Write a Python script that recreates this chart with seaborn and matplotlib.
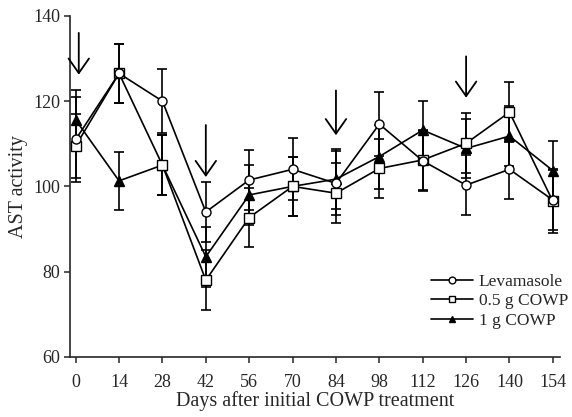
import pandas as pd
import seaborn as sns
import matplotlib.pyplot as plt
import numpy as np

days = [0, 14, 28, 42, 56, 70, 84, 98, 112, 126, 140, 154]

levamasole = [111, 126.5, 120, 94, 101.5, 104, 100.7, 114.6, 106, 100.3, 104, 96.8]
levamasole_err = [10, 7, 7.5, 7, 7, 7.3, 7.5, 7.5, 7, 7, 7, 7]

cowp_05 = [109.5, 126.5, 105, 78, 92.7, 100, 98.4, 104.2, 106.2, 110.1, 117.4, 96.5]
cowp_05_err = [7.5, 7, 7, 7, 7, 7, 7, 7, 7, 7, 7, 7.5]

cowp_1 = [115.6, 101.3, 105, 83.5, 98, 100, 101.7, 107, 113.2, 108.9, 111.8, 103.7]
cowp_1_err = [7, 6.8, 7, 7, 7, 7, 7, 7.5, 6.8, 7, 7, 7]

# treatment arrows (day, top, tip of arrow)
arrow_days = [1, 42, 84, 126]
arrow_top = [136, 114.4, 122.5, 130.5]
arrow_bottom = [126.2, 102.2, 112.0, 120.8]

rows = []
for name, vals, errs in [('Levamasole', levamasole, levamasole_err),
                         ('0.5 g COWP', cowp_05, cowp_05_err),
                         ('1 g COWP', cowp_1, cowp_1_err)]:
    for d, v, e in zip(days, vals, errs):
        rows.append({'day': d, 'ast': v, 'err': e, 'group': name})
df = pd.DataFrame(rows)

sns.set_style('ticks')
plt.rcParams['font.family'] = ['Liberation Serif', 'DejaVu Serif']

fig = plt.figure(figsize=(5.72, 4.17), dpi=100)
ax = fig.add_axes([0.122, 0.144, 0.857, 0.818])

styles = {
    '1 g COWP': dict(marker='^', markerfacecolor='black', zorder=3),
    '0.5 g COWP': dict(marker='s', markerfacecolor='white', zorder=4),
    'Levamasole': dict(marker='o', markerfacecolor='white', zorder=5),
}

for name in ['1 g COWP', '0.5 g COWP', 'Levamasole']:
    sub = df[df['group'] == name]
    ax.errorbar(sub['day'], sub['ast'], yerr=sub['err'], fmt='none',
                ecolor='black', elinewidth=1.2, capsize=3.5, capthick=1.2,
                zorder=2)
    sns.lineplot(data=sub, x='day', y='ast', ax=ax, color='black',
                 linewidth=1.2, markersize=6.5, markeredgecolor='black',
                 markeredgewidth=1.0, label=name, **styles[name])

for d, t, b in zip(arrow_days, arrow_top, arrow_bottom):
    ax.annotate('', xy=(d, b), xytext=(d, t),
                arrowprops=dict(arrowstyle='->, head_length=0.5, head_width=0.35',
                                color='black', lw=1.3, mutation_scale=21,
                                shrinkA=0, shrinkB=0))

ax.set_xlim(-1.9, 156.3)
ax.set_ylim(60, 140)
ax.set_xticks(days)
ax.set_yticks([60, 80, 100, 120, 140])
ax.tick_params(labelsize=13, direction='out', length=4, width=1.1)
ax.tick_params(axis='x', pad=8)
ax.tick_params(axis='y', pad=3)
ax.set_xlabel('Days after initial COWP treatment', fontsize=14.5, labelpad=0)
ax.set_ylabel('AST activity', fontsize=14.5, labelpad=4)
for s in ['top', 'right']:
    ax.spines[s].set_visible(False)
for s in ['left', 'bottom']:
    ax.spines[s].set_linewidth(1.2)

h, l = ax.get_legend_handles_labels()
order = [l.index('Levamasole'), l.index('0.5 g COWP'), l.index('1 g COWP')]
ax.legend([h[i] for i in order], [l[i] for i in order], loc='upper left',
          frameon=False, fontsize=12.5, handlelength=2.4, handletextpad=0.35,
          labelspacing=0.2, markerscale=0.75, bbox_to_anchor=(0.705, 0.29))

fig.savefig('out.png', dpi=100)
